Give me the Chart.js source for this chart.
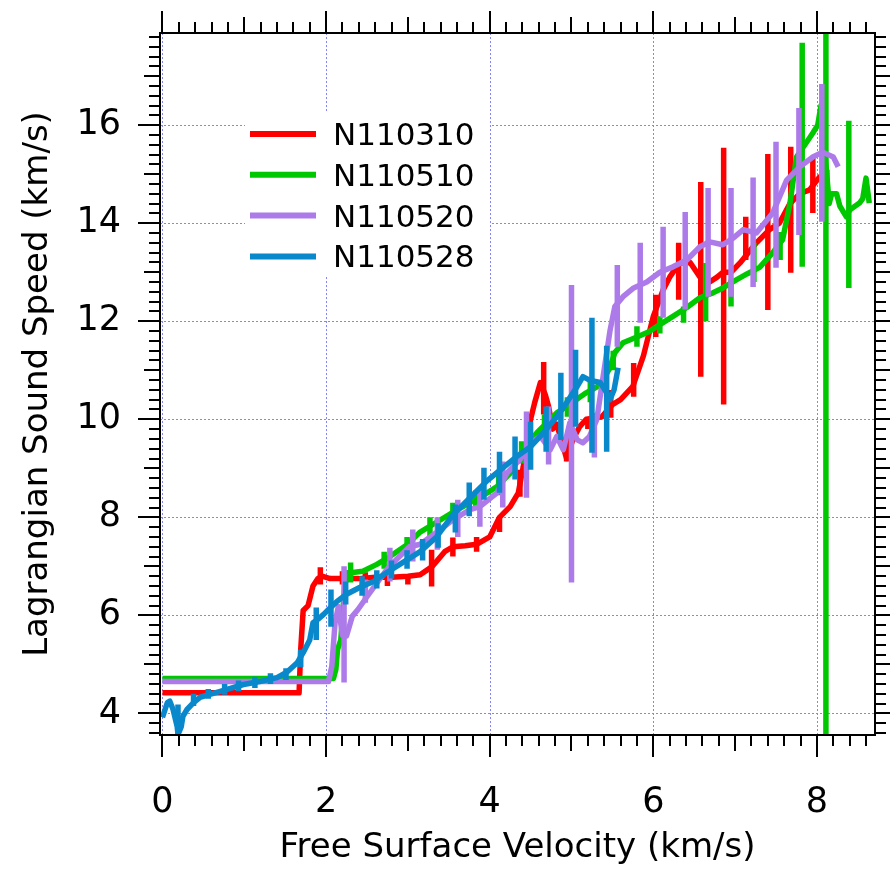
<!DOCTYPE html>
<html>
<head>
<meta charset="utf-8">
<script src="https://cdn.jsdelivr.net/npm/chart.js@4.4.1/dist/chart.umd.min.js"></script>
<style>
  html, body { margin: 0; padding: 0; background: #fff; }
  #wrap { width: 890px; height: 869px; }
</style>
</head>
<body>
<div id="wrap"><canvas id="chart"></canvas></div>
<script>
// ---- axis ranges and ticks ----
const X_MIN = -0.03, X_MAX = 8.71;
const Y_MIN = 3.56, Y_MAX = 17.88;
const X_TICKS = [0, 2, 4, 6, 8];
const Y_TICKS = [4, 6, 8, 10, 12, 14, 16];
const X_TITLE = 'Free Surface Velocity (km/s)';
const Y_TITLE = 'Lagrangian Sound Speed (km/s)';
const SERIES_NAMES = ['N110310', 'N110510', 'N110520', 'N110528'];
const SERIES_COLORS = ['#ff0000', '#00c800', '#ad7be9', '#0a88cc'];

// ---- N110310 (red) ----
const RED_X = [0, 1.67, 1.69, 1.72, 1.78, 1.84, 1.9, 1.95, 2.05, 2.2, 2.4, 2.6, 2.8, 3.0, 3.15, 3.3, 3.45, 3.55, 3.7, 3.84,
  4.0, 4.12, 4.25, 4.35, 4.41, 4.5, 4.55, 4.62, 4.68, 4.72, 4.77, 4.82, 4.94, 5.02, 5.1, 5.18, 5.37, 5.5, 5.6, 5.75,
  5.88, 6.0, 6.12, 6.2, 6.32, 6.45, 6.53, 6.59, 6.67, 6.78, 6.85, 6.95, 7.06, 7.26, 7.42, 7.54, 7.67, 7.79, 7.91, 8.03, 8.13];
const RED_Y = [4.42, 4.42, 5.3, 6.1, 6.2, 6.6, 6.75, 6.8, 6.75, 6.75, 6.75, 6.78, 6.78, 6.8, 6.83, 7.0, 7.3, 7.4, 7.42, 7.45,
  7.6, 8.0, 8.22, 8.5, 9.03, 10.0, 10.34, 10.75, 10.5, 10.26, 9.8, 9.9, 9.2, 9.6, 9.85, 10.0, 10.05, 10.3, 10.4, 10.67,
  11.3, 12.1, 12.64, 12.9, 13.19, 13.2, 13.0, 12.85, 12.78, 12.9, 13.0, 13.0, 13.19, 13.6, 13.87, 14.0, 14.4, 14.6, 14.68, 14.94, 14.88];
const RED_ERR_X  = [1.93, 2.2, 2.48, 2.75, 3.0, 3.29, 3.55, 3.84, 4.12, 4.37, 4.66, 4.94, 5.2, 5.48, 5.76, 6.03, 6.31, 6.58, 6.86, 7.13, 7.4, 7.68, 7.95, 8.12];
const RED_ERR_LO = [6.63, 6.63, 6.62, 6.6, 6.63, 6.59, 7.2, 7.3, 7.7, 8.42, 10.1, 9.14, 9.8, 10.03, 10.46, 11.68, 12.44, 10.87, 10.3, 13.25, 12.23, 12.99, 14.21, 14.74];
const RED_ERR_HI = [6.98, 6.9, 6.88, 6.83, 6.8, 7.34, 7.59, 7.6, 8.0, 8.97, 11.17, 9.65, 10.02, 10.6, 11.15, 12.54, 13.6, 14.84, 15.54, 14.13, 15.41, 15.56, 15.33, 15.09];

// ---- N110510 (green) ----
const GREEN_X = [0, 2.09, 2.12, 2.14, 2.18, 2.21, 2.24, 2.3, 2.45, 2.62, 2.78, 2.99, 3.15, 3.35, 3.55, 3.76, 3.97, 4.09, 4.25, 4.41,
  4.58, 4.7, 4.82, 4.94, 5.1, 5.18, 5.35, 5.47, 5.53, 5.63, 5.8, 5.94, 6.08, 6.24, 6.41, 6.57, 6.73, 6.85, 7.02, 7.15,
  7.3, 7.46, 7.58, 7.67, 7.75, 7.87, 7.95, 8.01, 8.05, 8.15, 8.18, 8.24, 8.28, 8.36, 8.4, 8.52, 8.56, 8.6, 8.64];
const GREEN_Y = [4.71, 4.71, 4.9, 5.3, 5.5, 6.2, 6.87, 6.87, 6.9, 7.04, 7.2, 7.44, 7.7, 7.9, 8.1, 8.3, 8.5, 8.63, 8.9, 9.38,
  9.73, 9.93, 10.13, 10.26, 10.45, 10.54, 10.7, 11.05, 11.36, 11.56, 11.68, 11.78, 11.93, 12.1, 12.28, 12.48, 12.58, 12.68, 12.85, 12.97,
  13.1, 13.4, 13.66, 14.4, 15.35, 15.64, 15.84, 16.0, 16.4, 14.4, 14.6, 14.6, 14.35, 14.13, 14.27, 14.41, 14.5, 14.92, 14.41];
const GREEN_ERR_X  = [2.3, 2.71, 2.99, 3.27, 3.55, 3.83, 4.11, 4.39, 4.67, 4.95, 5.23, 5.51, 5.8, 6.08, 6.37, 6.64, 6.95, 7.23, 7.55, 7.82, 8.11, 8.39];
const GREEN_ERR_LO = [6.67, 6.95, 7.25, 7.6, 7.9, 8.15, 8.45, 9.1, 9.65, 10.05, 10.35, 11.0, 11.48, 11.75, 11.97, 12.0, 12.3, 12.8, 13.25, 13.11, 0, 12.68];
const GREEN_ERR_HI = [7.08, 7.3, 7.6, 8.0, 8.3, 8.55, 8.85, 9.55, 10.1, 10.45, 10.85, 11.4, 11.9, 12.1, 12.3, 13.19, 12.85, 13.6, 13.82, 17.68, 20, 16.09];

// ---- N110520 (purple) ----
const PURPLE_X = [0, 2.03, 2.07, 2.11, 2.15, 2.2, 2.25, 2.32, 2.39, 2.5, 2.62, 2.74, 2.86, 3.02, 3.15, 3.35, 3.55, 3.76, 3.88, 4.09,
  4.21, 4.37, 4.5, 4.62, 4.74, 4.82, 4.9, 4.98, 5.07, 5.14, 5.22, 5.31, 5.38, 5.47, 5.53, 5.63, 5.76, 5.92, 6.08, 6.24,
  6.41, 6.57, 6.69, 6.85, 6.98, 7.1, 7.26, 7.46, 7.63, 7.79, 7.95, 8.07, 8.2, 8.26];
const PURPLE_Y = [4.65, 4.65, 4.96, 5.85, 6.18, 5.6, 5.58, 5.98, 6.12, 6.38, 6.66, 6.93, 7.14, 7.4, 7.45, 7.69, 7.95, 8.16, 8.22, 8.5,
  8.9, 9.18, 9.52, 9.65, 9.38, 9.65, 9.38, 9.93, 9.58, 9.52, 9.65, 10.0, 10.8, 11.8, 12.3, 12.5, 12.68, 12.8, 13.0, 13.11,
  13.25, 13.52, 13.62, 13.56, 13.7, 13.87, 13.8, 14.21, 14.88, 15.15, 15.35, 15.45, 15.35, 15.15];
const PURPLE_ERR_X  = [2.22, 2.48, 2.78, 3.06, 3.36, 3.61, 3.88, 4.16, 4.45, 4.72, 5.0, 5.28, 5.56, 5.84, 6.12, 6.39, 6.67, 6.95, 7.22, 7.5, 7.78, 8.06];
const PURPLE_ERR_LO = [4.63, 6.26, 6.69, 7.1, 7.34, 7.6, 7.81, 8.2, 8.4, 9.08, 6.67, 9.22, 11.48, 11.97, 12.07, 12.24, 12.5, 12.5, 12.7, 13.09, 13.76, 14.03];
const PURPLE_ERR_HI = [7.0, 6.73, 7.38, 7.75, 8.0, 8.36, 8.57, 9.14, 10.16, 10.26, 12.74, 10.13, 13.15, 13.6, 13.93, 14.23, 14.72, 14.72, 14.93, 15.66, 16.35, 16.84];

// ---- N110528 (blue) ----
const BLUE_X = [0, 0.06, 0.09, 0.13, 0.18, 0.19, 0.23, 0.25, 0.3, 0.38, 0.46, 0.58, 0.79, 0.99, 1.19, 1.4, 1.52, 1.65, 1.72, 1.8,
  1.84, 1.9, 1.97, 2.03, 2.13, 2.25, 2.41, 2.58, 2.74, 2.94, 3.15, 3.35, 3.55, 3.76, 3.97, 4.13, 4.33, 4.5, 4.66, 4.82,
  4.94, 5.07, 5.14, 5.22, 5.35, 5.43, 5.47, 5.52, 5.57];
const BLUE_Y = [3.92, 4.22, 4.25, 4.08, 3.73, 3.57, 3.73, 3.94, 4.08, 4.22, 4.33, 4.39, 4.49, 4.59, 4.65, 4.73, 4.84, 5.04, 5.24, 5.5,
  5.85, 5.92, 6.02, 6.12, 6.28, 6.43, 6.57, 6.69, 6.87, 7.08, 7.3, 7.6, 8.05, 8.4, 8.75, 8.97, 9.24, 9.44, 9.73, 10.05,
  10.34, 10.67, 10.87, 10.8, 10.75, 10.54, 10.4, 10.6, 11.05];
const BLUE_ERR_X  = [0.19, 0.38, 0.56, 0.76, 0.93, 1.13, 1.32, 1.51, 1.69, 1.88, 2.06, 2.24, 2.44, 2.62, 2.8, 2.99, 3.18, 3.37, 3.58, 3.75,
  3.93, 4.12, 4.31, 4.5, 4.69, 4.87, 5.05, 5.25, 5.43];
const BLUE_ERR_LO = [3.54, 4.15, 4.3, 4.38, 4.45, 4.52, 4.6, 4.68, 4.94, 5.5, 5.77, 6.22, 6.4, 6.55, 6.75, 6.95, 7.12, 7.38, 7.69, 8.02,
  8.36, 8.5, 8.77, 8.97, 9.34, 9.58, 9.85, 9.32, 9.34];
const BLUE_ERR_HI = [4.18, 4.4, 4.5, 4.6, 4.67, 4.75, 4.82, 4.92, 5.3, 6.16, 6.53, 6.69, 6.8, 6.92, 7.12, 7.33, 7.56, 7.88, 8.26, 8.71,
  9.01, 9.34, 9.65, 9.95, 10.26, 10.95, 11.42, 12.07, 11.5];

const FONT = '"DejaVu Sans", sans-serif';

function toPoints(xs, ys) {
    return xs.map((x, i) => ({ x: x, y: ys[i] }));
}

// each error bar is a two point segment, broken from the next by a null
function toBars(xs, lo, hi) {
    const pts = [];
    xs.forEach((x, i) => {
        pts.push({ x: x, y: lo[i] }, { x: x, y: hi[i] }, { x: x, y: null });
    });
    return pts;
}

const SERIES = [
    [RED_X, RED_Y, RED_ERR_X, RED_ERR_LO, RED_ERR_HI],
    [GREEN_X, GREEN_Y, GREEN_ERR_X, GREEN_ERR_LO, GREEN_ERR_HI],
    [PURPLE_X, PURPLE_Y, PURPLE_ERR_X, PURPLE_ERR_LO, PURPLE_ERR_HI],
    [BLUE_X, BLUE_Y, BLUE_ERR_X, BLUE_ERR_LO, BLUE_ERR_HI]
];

const datasets = [];
SERIES.forEach((s, k) => {
    const common = {
        showLine: true,
        borderColor: SERIES_COLORS[k],
        backgroundColor: SERIES_COLORS[k],
        borderWidth: 5.5,
        borderJoinStyle: 'round',
        pointRadius: 0,
        pointHoverRadius: 0,
        tension: 0,
        spanGaps: false,
        clip: 0,
        order: SERIES.length - k   // later series sit on top
    };
    datasets.push(Object.assign({ label: SERIES_NAMES[k], data: toPoints(s[0], s[1]) }, common));
    datasets.push(Object.assign({ label: SERIES_NAMES[k] + ' err', data: toBars(s[2], s[3], s[4]) }, common));
});

/* background + dotted grid */
const gridPlugin = {
    id: 'grid',
    beforeDraw(chart) {
        const ctx = chart.ctx;
        ctx.save();
        ctx.fillStyle = '#fff';
        ctx.fillRect(0, 0, chart.width, chart.height);
        ctx.restore();
    },
    beforeDatasetsDraw(chart) {
        const { ctx, chartArea: a, scales: { x, y } } = chart;
        ctx.save();
        ctx.strokeStyle = '#8484ff';
        ctx.lineWidth = 1;
        ctx.setLineDash([2, 2]);
        X_TICKS.forEach(v => {
            const px = Math.round(x.getPixelForValue(v)) + 0.5;
            ctx.beginPath(); ctx.moveTo(px, a.top); ctx.lineTo(px, a.bottom); ctx.stroke();
        });
        Y_TICKS.forEach(v => {
            const py = Math.round(y.getPixelForValue(v)) + 0.5;
            ctx.beginPath(); ctx.moveTo(a.left, py); ctx.lineTo(a.right, py); ctx.stroke();
        });
        ctx.restore();
    }
};

/* frame, mirrored outward ticks, titles, legend */
const framePlugin = {
    id: 'frame',
    afterDraw(chart) {
        const { ctx, chartArea: a, scales: { x, y } } = chart;
        const len = r => (r % 10 === 0 ? 22 : (r % 5 === 0 ? 16 : 11));
        ctx.save();
        ctx.strokeStyle = '#000';
        ctx.lineWidth = 2;
        ctx.setLineDash([]);
        ctx.strokeRect(a.left, a.top, a.right - a.left, a.bottom - a.top);

        ctx.beginPath();
        for (let r = Math.ceil(X_MIN * 5); r <= Math.floor(X_MAX * 5); r++) {
            const px = Math.round(x.getPixelForValue(r / 5));
            const l = len(r);
            ctx.moveTo(px, a.bottom); ctx.lineTo(px, a.bottom + l);
            ctx.moveTo(px, a.top); ctx.lineTo(px, a.top - l);
        }
        for (let r = Math.ceil(Y_MIN * 5); r <= Math.floor(Y_MAX * 5); r++) {
            const py = Math.round(y.getPixelForValue(r / 5));
            const l = len(r);
            ctx.moveTo(a.left, py); ctx.lineTo(a.left - l, py);
            ctx.moveTo(a.right, py); ctx.lineTo(a.right + l, py);
        }
        ctx.stroke();

        // axis titles
        ctx.fillStyle = '#000';
        ctx.font = '34px ' + FONT;
        ctx.textAlign = 'center';
        ctx.textBaseline = 'alphabetic';
        ctx.fillText(X_TITLE, (a.left + a.right) / 2, 857);
        ctx.translate(47, (a.top + a.bottom) / 2);
        ctx.rotate(-Math.PI / 2);
        ctx.fillText(Y_TITLE, 0, 0);
        ctx.restore();

        // legend
        ctx.save();
        ctx.fillStyle = '#fff';
        ctx.fillRect(245, 112, 245, 164);
        ctx.font = '31px ' + FONT;
        ctx.textAlign = 'left';
        ctx.textBaseline = 'alphabetic';
        SERIES_NAMES.forEach((name, k) => {
            const ly = 134 + k * 40.8;
            ctx.strokeStyle = SERIES_COLORS[k];
            ctx.lineWidth = 6;
            ctx.beginPath(); ctx.moveTo(250, ly); ctx.lineTo(316, ly); ctx.stroke();
            ctx.fillStyle = '#000';
            ctx.fillText(name, 333, ly + 11);
        });
        ctx.restore();
    }
};

new Chart(document.getElementById('chart'), {
    type: 'scatter',
    data: { datasets: datasets },
    options: {
        responsive: true,
        maintainAspectRatio: false,
        animation: false,
        events: [],
        layout: { padding: { top: 33, right: 15, left: 0, bottom: 0 } },
        plugins: { legend: { display: false }, tooltip: { enabled: false } },
        scales: {
            x: {
                type: 'linear', position: 'bottom', min: X_MIN, max: X_MAX,
                afterBuildTicks: s => { s.ticks = X_TICKS.map(v => ({ value: v })); },
                afterFit: s => { s.height = 134; s.paddingLeft = 0; s.paddingRight = 0; },
                grid: { display: false }, border: { display: false },
                ticks: { color: '#000', font: { family: FONT, size: 35 }, padding: 39, maxRotation: 0, autoSkip: false }
            },
            y: {
                type: 'linear', position: 'left', min: Y_MIN, max: Y_MAX,
                afterBuildTicks: s => { s.ticks = Y_TICKS.map(v => ({ value: v })); },
                afterFit: s => { s.width = 160; s.paddingTop = 0; s.paddingBottom = 0; },
                grid: { display: false }, border: { display: false },
                ticks: { color: '#000', font: { family: FONT, size: 35 }, padding: 31, autoSkip: false }
            }
        }
    },
    plugins: [gridPlugin, framePlugin]
});
</script>
</body>
</html>
